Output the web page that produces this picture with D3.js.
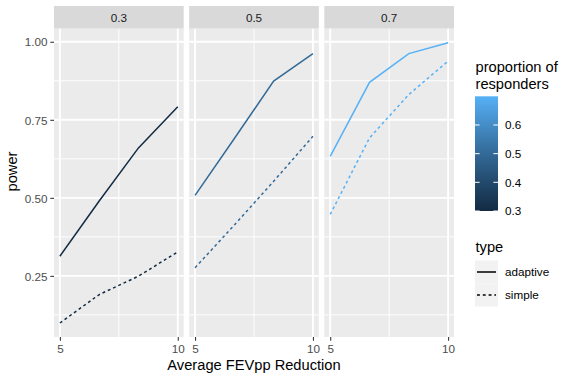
<!DOCTYPE html>
<html>
<head>
<meta charset="utf-8">
<script src="https://cdn.jsdelivr.net/npm/d3@7"></script>
<style>
  body { margin: 0; background: #fff; }
  svg { display: block; font-family: "Liberation Sans", Arial, Helvetica, sans-serif; }
</style>
</head>
<body>
<svg id="chart" width="561" height="374"></svg>
<script>
// ---- data ----
const proportions = [0.3, 0.5, 0.7];
const reductions = [5, 6.667, 8.333, 10];
const adaptive_03 = [0.313, 0.49, 0.66, 0.792];
const simple_03   = [0.099, 0.19, 0.249, 0.327];
const adaptive_05 = [0.508, 0.69, 0.874, 0.962];
const simple_05   = [0.276, 0.413, 0.553, 0.697];
const adaptive_07 = [0.633, 0.870, 0.962, 0.997];
const simple_07   = [0.447, 0.692, 0.831, 0.938];
const xTicks = [5, 10];
const xMinor = [7.5];
const yTicks = [0.25, 0.50, 0.75, 1.00];
const yMinor = [0.125, 0.375, 0.625, 0.875];
const legendTicks = [0.3, 0.4, 0.5, 0.6];
const types = ["adaptive", "simple"];

const seriesByPanel = [
  {p: proportions[0], adaptive: adaptive_03, simple: simple_03},
  {p: proportions[1], adaptive: adaptive_05, simple: simple_05},
  {p: proportions[2], adaptive: adaptive_07, simple: simple_07}
];

// ---- layout ----
const svg = d3.select("#chart");
const plotL = 54, plotR = 454, gap = 5.5;
const stripTop = 6, panelTop = 28.7, panelBottom = 337;
const panelW = (plotR - plotL - 2 * gap) / 3;

const allVals = [].concat(adaptive_03, simple_03, adaptive_05, simple_05, adaptive_07, simple_07);
const yMin = d3.min(allVals), yMax = d3.max(allVals);
const yPad = (yMax - yMin) * 0.05;
const y = d3.scaleLinear().domain([yMin - yPad, yMax + yPad]).range([panelBottom, panelTop]);

const color = d3.scaleLinear().domain([0.3, 0.7]).range(["#132B43", "#56B1F7"]).interpolate(d3.interpolateLab);
const dash = d3.scaleOrdinal().domain(types).range(["none", "2.9,2.9"]);

const tickFont = 11.7, titleFont = 14.67;

seriesByPanel.forEach((d, i) => {
  const x0 = plotL + i * (panelW + gap);
  const xPad = (10 - 5) * 0.05;
  const x = d3.scaleLinear().domain([5 - xPad, 10 + xPad]).range([x0, x0 + panelW]);
  const g = svg.append("g");

  // strip
  g.append("rect").attr("x", x0).attr("y", stripTop).attr("width", panelW)
    .attr("height", panelTop - stripTop).attr("fill", "#D9D9D9");
  g.append("text").attr("x", x0 + panelW / 2).attr("y", 21.7)
    .attr("text-anchor", "middle").attr("font-size", tickFont).attr("fill", "#1A1A1A")
    .text(d3.format(".1f")(d.p));

  // panel bg
  g.append("rect").attr("x", x0).attr("y", panelTop).attr("width", panelW)
    .attr("height", panelBottom - panelTop).attr("fill", "#EBEBEB");

  // grid
  yMinor.forEach(v => g.append("line").attr("x1", x0).attr("x2", x0 + panelW)
    .attr("y1", y(v)).attr("y2", y(v)).attr("stroke", "#fff").attr("stroke-width", 0.95));
  xMinor.forEach(v => g.append("line").attr("x1", x(v)).attr("x2", x(v))
    .attr("y1", panelTop).attr("y2", panelBottom).attr("stroke", "#fff").attr("stroke-width", 0.95));
  yTicks.forEach(v => g.append("line").attr("x1", x0).attr("x2", x0 + panelW)
    .attr("y1", y(v)).attr("y2", y(v)).attr("stroke", "#fff").attr("stroke-width", 1.9));
  xTicks.forEach(v => g.append("line").attr("x1", x(v)).attr("x2", x(v))
    .attr("y1", panelTop).attr("y2", panelBottom).attr("stroke", "#fff").attr("stroke-width", 1.9));

  // lines
  const line = d3.line().x((v, j) => x(reductions[j])).y(v => y(v));
  types.forEach(t => {
    g.append("path").attr("d", line(d[t])).attr("fill", "none")
      .attr("stroke", color(d.p)).attr("stroke-width", 1.5)
      .attr("stroke-dasharray", dash(t));
  });

  // x axis
  const xa = g.append("g").attr("transform", `translate(0,${panelBottom})`)
    .call(d3.axisBottom(x).tickValues(xTicks).tickSize(3.67).tickPadding(3).tickFormat(d3.format("d")));
  xa.select(".domain").remove();
  xa.selectAll("line").attr("stroke", "#333333").attr("stroke-width", 1.07);
  xa.selectAll("text").attr("font-size", tickFont).attr("fill", "#4D4D4D")
    .attr("font-family", "Liberation Sans, Arial, sans-serif").attr("dy", null).attr("y", 16.2);

  if (i === 0) {
    const ya = g.append("g").attr("transform", `translate(${x0},0)`)
      .call(d3.axisLeft(y).tickValues(yTicks).tickSize(3.67).tickPadding(2.9).tickFormat(d3.format(".2f")));
    ya.select(".domain").remove();
    ya.selectAll("line").attr("stroke", "#333333").attr("stroke-width", 1.07);
    ya.selectAll("text").attr("font-size", tickFont).attr("fill", "#4D4D4D")
      .attr("font-family", "Liberation Sans, Arial, sans-serif").attr("dy", "0.36em");
  }
});

// axis titles
svg.append("text").attr("x", (plotL + plotR) / 2).attr("y", 369.5).attr("text-anchor", "middle")
  .attr("font-size", titleFont).attr("fill", "#000").text("Average FEVpp Reduction");
svg.append("text").attr("transform", `translate(17,${(stripTop + panelBottom) / 2}) rotate(-90)`)
  .attr("text-anchor", "middle").attr("font-size", titleFont).attr("fill", "#000").text("power");

// ---- colour legend ----
const lg = svg.append("g");
const barX = 475, barW = 23, barTop = 96.3, barBottom = 211;
lg.append("text").attr("x", 475.5).attr("y", 71.7).attr("font-size", titleFont).text("proportion of");
lg.append("text").attr("x", 475.5).attr("y", 88.5).attr("font-size", titleFont).text("responders");
const grad = svg.append("defs").append("linearGradient").attr("id", "cbar")
  .attr("x1", 0).attr("x2", 0).attr("y1", 1).attr("y2", 0);
d3.range(0, 1.0001, 0.05).forEach(t => grad.append("stop")
  .attr("offset", t).attr("stop-color", color(0.3 + 0.4 * t)));
lg.append("rect").attr("x", barX).attr("y", barTop).attr("width", barW)
  .attr("height", barBottom - barTop).attr("fill", "url(#cbar)");
const ly = d3.scaleLinear().domain([0.3, 0.7]).range([barBottom, barTop]);
legendTicks.forEach(v => {
  [[barX, barX + 4.6], [barX + barW - 4.6, barX + barW]].forEach(([a, b]) =>
    lg.append("line").attr("x1", a).attr("x2", b).attr("y1", ly(v)).attr("y2", ly(v))
      .attr("stroke", "#fff").attr("stroke-width", 1));
  lg.append("text").attr("x", 505).attr("y", ly(v)).attr("dy", "0.36em")
    .attr("font-size", tickFont).attr("fill", "#000").text(d3.format(".1f")(v));
});

// ---- type legend ----
lg.append("text").attr("x", 475.5).attr("y", 251.5).attr("font-size", titleFont).text("type");
types.forEach((t, k) => {
  const ky = 260.5 + k * 23;
  lg.append("rect").attr("x", barX).attr("y", ky).attr("width", 23).attr("height", 23).attr("fill", "#F2F2F2");
  lg.append("line").attr("x1", barX + 2).attr("x2", barX + 21).attr("y1", ky + 11.5).attr("y2", ky + 11.5)
    .attr("stroke", "#000").attr("stroke-width", 1.5).attr("stroke-dasharray", dash(t));
  lg.append("text").attr("x", 505).attr("y", ky + 11.5).attr("dy", "0.36em")
    .attr("font-size", tickFont).attr("fill", "#000").text(t);
});
</script>
</body>
</html>
